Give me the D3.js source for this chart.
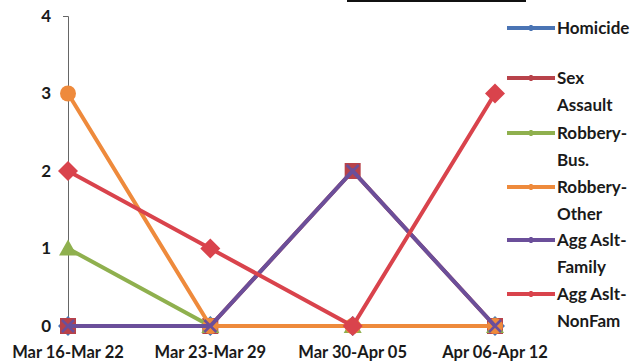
<!DOCTYPE html>
<html>
<head>
<meta charset="utf-8">
<script src="https://cdn.jsdelivr.net/npm/d3@7"></script>
<style>
  body { margin: 0; background: #fff; }
  svg { display: block; }
  text { font-family: Lato, "Open Sans", sans-serif; font-weight: 700; fill: #1a1a1a; }
</style>
</head>
<body>
<svg width="635" height="361"></svg>
<script>
var weeks = ["Mar 16-Mar 22", "Mar 23-Mar 29", "Mar 30-Apr 05", "Apr 06-Apr 12"];
var yTicks = [0, 1, 2, 3, 4];

var homicide = [0, 0, 0, 0];
var sexAssault = [0, 0, 2, 0];
var robberyBus = [1, 0, 0, 0];
var robberyOther = [3, 0, 0, 0];
var aggFamily = [0, 0, 2, 0];
var aggNonFam = [2, 1, 0, 3];

var seriesNames = [["Homicide"], ["Sex", "Assault"], ["Robbery-", "Bus."], ["Robbery-", "Other"], ["Agg Aslt-", "Family"], ["Agg Aslt-", "NonFam"]];
var seriesColors = ["#4a74b4", "#b8424a", "#8fb04e", "#ee8a3c", "#6b4f9a", "#d9434c"];
var seriesMarkers = ["diamond", "square", "triangle", "circle", "cross", "diamond"];
var seriesValues = [homicide, sexAssault, robberyBus, robberyOther, aggFamily, aggNonFam];

var svg = d3.select("svg");

var x = d3.scalePoint().domain(weeks).range([68, 495]);
var y = d3.scaleLinear().domain([0, 4]).range([326, 16]);

// title underline, cut off at top
svg.append("rect").attr("x", 347).attr("y", 0).attr("width", 179).attr("height", 2).attr("fill", "#111");

// y axis
var yAxis = d3.axisLeft(y).tickValues(yTicks).tickSize(5).tickPadding(12).tickFormat(d3.format("d"));
var gy = svg.append("g").attr("transform", "translate(68,0)").call(yAxis);
gy.select(".domain").attr("stroke", "#666");
gy.selectAll(".tick line").attr("stroke", "#666");
gy.selectAll(".tick text").style("font-size", "17px").attr("fill", "#1a1a1a");

// x labels
svg.append("g").selectAll("text").data(weeks).join("text")
  .attr("x", function (d) { return x(d); })
  .attr("y", 358)
  .attr("text-anchor", "middle")
  .style("font-size", "16.5px")
  .text(function (d) { return d; });

function drawMarker(g, type, cx, cy, color) {
  if (type === "circle") {
    g.append("circle").attr("cx", cx).attr("cy", cy).attr("r", 8).attr("fill", color);
  } else if (type === "square") {
    g.append("rect").attr("x", cx - 8).attr("y", cy - 8).attr("width", 16).attr("height", 16).attr("fill", color);
  } else if (type === "triangle") {
    g.append("path").attr("d", "M" + cx + "," + (cy - 9) + "L" + (cx + 9) + "," + (cy + 7) + "L" + (cx - 9) + "," + (cy + 7) + "Z").attr("fill", color);
  } else if (type === "diamond") {
    g.append("path").attr("d", "M" + cx + "," + (cy - 10) + "L" + (cx + 10) + "," + cy + "L" + cx + "," + (cy + 10) + "L" + (cx - 10) + "," + cy + "Z").attr("fill", color);
  } else if (type === "cross") {
    g.append("path").attr("d", "M" + (cx - 6) + "," + (cy - 6) + "L" + (cx + 6) + "," + (cy + 6) + "M" + (cx + 6) + "," + (cy - 6) + "L" + (cx - 6) + "," + (cy + 6))
      .attr("stroke", color).attr("stroke-width", 2.5);
  }
}

var line = d3.line()
  .x(function (d, i) { return x(weeks[i]); })
  .y(function (d) { return y(d); });

seriesValues.forEach(function (vals, s) {
  var g = svg.append("g");
  g.append("path").datum(vals).attr("d", line)
    .attr("fill", "none").attr("stroke", seriesColors[s]).attr("stroke-width", 4);
  vals.forEach(function (v, i) {
    drawMarker(g, seriesMarkers[s], x(weeks[i]), y(v), seriesColors[s]);
  });
});

// legend
var legendY = [28, 78, 133, 187, 240, 294];
seriesNames.forEach(function (lines, s) {
  var g = svg.append("g");
  var ly = legendY[s];
  g.append("line").attr("x1", 507).attr("x2", 555).attr("y1", ly).attr("y2", ly)
    .attr("stroke", seriesColors[s]).attr("stroke-width", 4);
  g.append("line").attr("x1", 531).attr("x2", 531).attr("y1", ly - 3).attr("y2", ly + 3)
    .attr("stroke", seriesColors[s]).attr("stroke-width", 3);
  lines.forEach(function (t, k) {
    g.append("text").attr("x", 557).attr("y", ly + 6 + k * 27)
      .style("font-size", "17px").text(t);
  });
});
</script>
</body>
</html>
